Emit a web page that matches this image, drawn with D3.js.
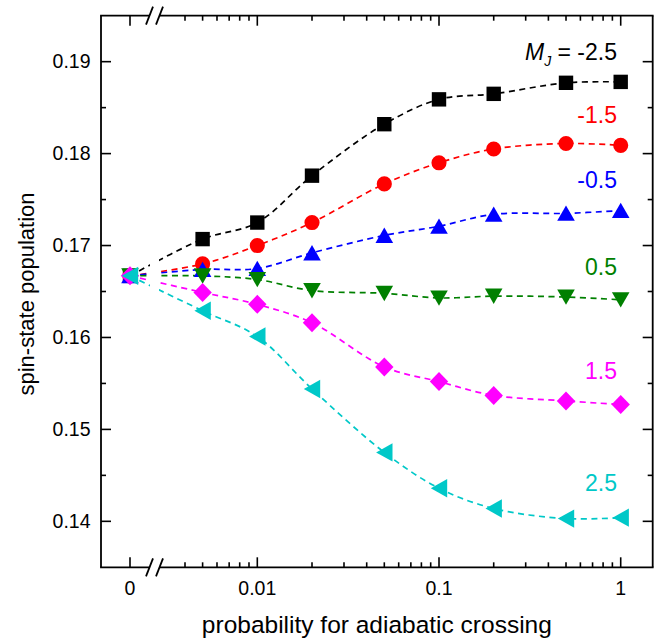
<!DOCTYPE html>
<html>
<head>
<meta charset="utf-8">
<script src="https://cdn.jsdelivr.net/npm/d3@7"></script>
<style>
  body { margin: 0; background: #fff; }
  text { font-family: "Liberation Sans", Arial, sans-serif; }
</style>
</head>
<body>
<script>
// dati
var xValues = [0, 0.005, 0.01, 0.02, 0.05, 0.1, 0.2, 0.5, 1];
var mjMinus25 = [0.1667, 0.1707, 0.1725, 0.1776, 0.1832, 0.1859, 0.1865, 0.1877, 0.1878];
var mjMinus15 = [0.1667, 0.1680, 0.1700, 0.1725, 0.1767, 0.1790, 0.1805, 0.1811, 0.1809];
var mjMinus05 = [0.1667, 0.1674, 0.1675, 0.1692, 0.1711, 0.1721, 0.1734, 0.1735, 0.1738];
var mjPlus05 = [0.1667, 0.1667, 0.1663, 0.1651, 0.1648, 0.1643, 0.1645, 0.1644, 0.1641];
var mjPlus15 = [0.1667, 0.1649, 0.1636, 0.1616, 0.1568, 0.1552, 0.1537, 0.1531, 0.1527];
var mjPlus25 = [0.1667, 0.1629, 0.1601, 0.1544, 0.1475, 0.1436, 0.1414, 0.1403, 0.1404];
var seriesLabels = ["-2.5", "-1.5", "-0.5", "0.5", "1.5", "2.5"];
var yTickLabels = [0.14, 0.15, 0.16, 0.17, 0.18, 0.19];
var xMajorTicks = [0.01, 0.1, 1];

var w = 665, h = 638;
var pLeft = 101, pRight = 652.7, pTop = 15.7, pBottom = 567.3;
var breakL = 150, breakR = 159;

var svg = d3.select("body").append("svg")
    .attr("width", w)
    .attr("height", h);

// scale: segmento lineare per lo zero, poi logaritmica
var xZero = d3.scaleLinear().domain([-1, 1]).range([pLeft, pLeft + 58]);
var xLog = d3.scaleLog().domain([0.003, 1.5]).range([162.3, pRight]);
var y = d3.scaleLinear().domain([0.135, 0.195]).range([pBottom, pTop]);

function xPos(v) { return v === 0 ? xZero(0) : xLog(v); }

var series = [
    {vals: mjMinus25, color: "#000000", shape: "square"},
    {vals: mjMinus15, color: "#ff0000", shape: "circle"},
    {vals: mjMinus05, color: "#0000ff", shape: "up"},
    {vals: mjPlus05, color: "#008000", shape: "down"},
    {vals: mjPlus15, color: "#ff00ff", shape: "diamond"},
    {vals: mjPlus25, color: "#00c8c8", shape: "left"}
];

function markerPath(shape) {
    switch (shape) {
        case "square": return "M-7.2,-7.2H7.2V7.2H-7.2Z";
        case "circle": return d3.symbol(d3.symbolCircle, 180)();
        case "up": return "M0,-7.8L8.8,7.5L-8.8,7.5Z";
        case "down": return "M0,7.8L8.8,-7.5L-8.8,-7.5Z";
        case "diamond": return "M0,-9.5L9.2,0L0,9.5L-9.2,0Z";
        case "left": return "M-8.2,0L8.2,-9.2L8.2,9.2Z";
    }
}

// clip per l'interruzione dell'asse
var clip = svg.append("defs").append("clipPath").attr("id", "brk");
clip.append("rect").attr("x", pLeft).attr("y", pTop).attr("width", breakL - pLeft).attr("height", pBottom - pTop);
clip.append("rect").attr("x", breakR).attr("y", pTop).attr("width", pRight - breakR).attr("height", pBottom - pTop);

var line = d3.line()
    .x(function(d) { return xPos(d[0]); })
    .y(function(d) { return y(d[1]); })
    .curve(d3.curveCatmullRom.alpha(0.5));

var gLines = svg.append("g").attr("clip-path", "url(#brk)");
series.forEach(function(s) {
    var pts = xValues.map(function(x, i) { return [x, s.vals[i]]; });
    gLines.append("path")
        .attr("d", line(pts))
        .attr("fill", "none")
        .attr("stroke", s.color)
        .attr("stroke-width", 1.7)
        .attr("stroke-dasharray", "6,4.5");
});

series.forEach(function(s) {
    svg.append("g").selectAll("path")
        .data(xValues)
        .enter().append("path")
        .attr("transform", function(d, i) { return "translate(" + xPos(d) + "," + y(s.vals[i]) + ")"; })
        .attr("d", markerPath(s.shape))
        .attr("fill", s.color);
});

// cornice e tacche
var frame = svg.append("g").attr("stroke", "#000").attr("stroke-width", 1.8).attr("fill", "none");
frame.append("line").attr("x1", pLeft).attr("x2", pLeft).attr("y1", pTop).attr("y2", pBottom);
frame.append("line").attr("x1", pRight).attr("x2", pRight).attr("y1", pTop).attr("y2", pBottom);
[pTop, pBottom].forEach(function(yy) {
    frame.append("line").attr("x1", pLeft - 0.9).attr("x2", breakL).attr("y1", yy).attr("y2", yy);
    frame.append("line").attr("x1", breakR).attr("x2", pRight + 0.9).attr("y1", yy).attr("y2", yy);
    frame.append("line").attr("x1", breakL - 4).attr("x2", breakL + 3).attr("y1", yy + 9).attr("y2", yy - 9);
    frame.append("line").attr("x1", breakR - 3).attr("x2", breakR + 4).attr("y1", yy + 9).attr("y2", yy - 9);
});

var xMinor = [];
[0.001, 0.01, 0.1].forEach(function(dec) {
    for (var k = 2; k <= 9; k++) {
        var v = +(dec * k).toPrecision(3);
        if (v > 0.0035) xMinor.push(v);
    }
});
var xTicks = [{x: xZero(0), len: 10}]
    .concat(xMajorTicks.map(function(v) { return {x: xLog(v), len: 10}; }))
    .concat(xMinor.map(function(v) { return {x: xLog(v), len: 5}; }));
var ticks = svg.append("g").attr("stroke", "#000").attr("stroke-width", 1.6);
xTicks.forEach(function(t) {
    ticks.append("line").attr("x1", t.x).attr("x2", t.x).attr("y1", pBottom).attr("y2", pBottom - t.len);
    ticks.append("line").attr("x1", t.x).attr("x2", t.x).attr("y1", pTop).attr("y2", pTop + t.len);
});
var yMinor = [0.145, 0.155, 0.165, 0.175, 0.185];
yTickLabels.map(function(v) { return {y: y(v), len: 10}; })
    .concat(yMinor.map(function(v) { return {y: y(v), len: 5}; }))
    .forEach(function(t) {
        ticks.append("line").attr("x1", pLeft).attr("x2", pLeft + t.len).attr("y1", t.y).attr("y2", t.y);
        ticks.append("line").attr("x1", pRight).attr("x2", pRight - t.len).attr("y1", t.y).attr("y2", t.y);
    });

// etichette
svg.append("g").selectAll("text")
    .data(yTickLabels).enter().append("text")
    .attr("x", pLeft - 10.5)
    .attr("y", function(d) { return y(d) + 6.5; })
    .attr("text-anchor", "end")
    .attr("font-size", 19.5)
    .text(function(d) { return d.toFixed(2); });

var xLabels = [{x: xZero(0), t: "0"}].concat(xMajorTicks.map(function(v) { return {x: xLog(v), t: String(v)}; }));
svg.append("g").selectAll("text")
    .data(xLabels).enter().append("text")
    .attr("x", function(d) { return d.x; })
    .attr("y", 595)
    .attr("text-anchor", "middle")
    .attr("font-size", 19.5)
    .text(function(d) { return d.t; });

svg.append("text")
    .attr("x", (pLeft + pRight) / 2)
    .attr("y", 632.5)
    .attr("text-anchor", "middle")
    .attr("font-size", 24.5)
    .text("probability for adiabatic crossing");

svg.append("text")
    .attr("transform", "translate(34," + 294 + ") rotate(-90)")
    .attr("text-anchor", "middle")
    .attr("font-size", 22)
    .text("spin-state population");

var labelY = [60, 122.5, 188, 275, 379, 490.5];
series.forEach(function(s, i) {
    var t = svg.append("text")
        .attr("x", 617)
        .attr("y", labelY[i])
        .attr("text-anchor", "end")
        .attr("font-size", 23)
        .attr("fill", s.color);
    if (i === 0) {
        t.append("tspan").attr("font-style", "italic").text("M");
        t.append("tspan").attr("font-style", "italic").attr("font-size", 14).attr("dy", 6).text("J");
        t.append("tspan").attr("dy", -6).text(" = " + seriesLabels[i]);
    } else {
        t.text(seriesLabels[i]);
    }
});
</script>
</body>
</html>
